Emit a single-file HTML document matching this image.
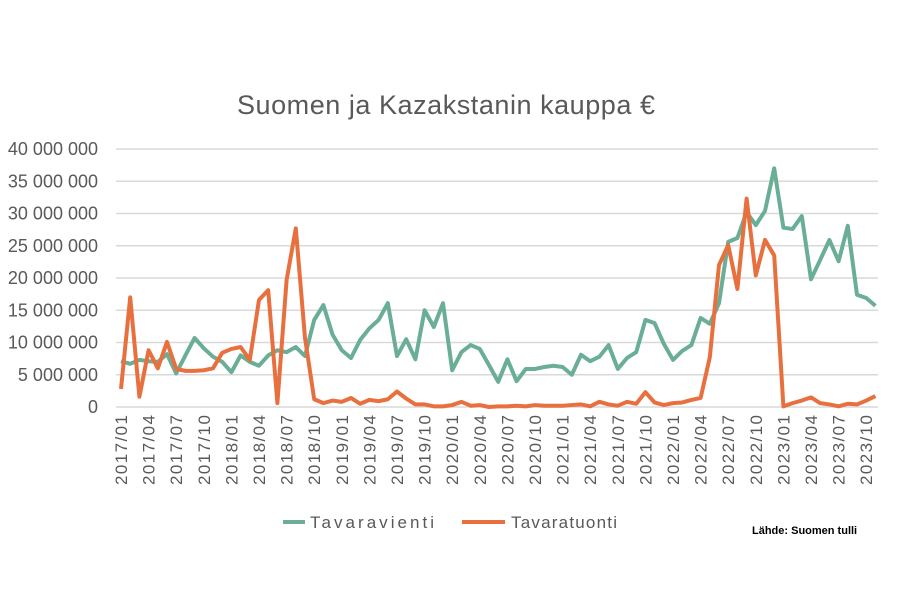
<!DOCTYPE html>
<html><head><meta charset="utf-8"><style>
body{margin:0;background:#fff;}
svg text{font-family:"Liberation Sans",sans-serif;fill:#595959;}
</style></head><body>
<svg id="chart" width="900" height="600">
<text x="446" y="114" text-anchor="middle" font-size="27" textLength="418">Suomen ja Kazakstanin kauppa €</text>
<g id="grid"></g><g id="yt"></g><g id="xt"></g><g id="series"></g>
<g>
<line x1="283" y1="522" x2="305" y2="522" stroke="#6aae96" stroke-width="4"/>
<text x="310" y="528" font-size="17" textLength="124">Tavaravienti</text>
<line x1="462" y1="522" x2="505" y2="522" stroke="#e8703f" stroke-width="4"/>
<text x="511" y="528" font-size="17" textLength="106">Tavaratuonti</text>
</g>
<text x="752" y="534" font-size="11" font-weight="bold" style="fill:#000">Lähde: Suomen tulli</text>
</svg>
<script>
const vienti=[7.1,6.7,7.3,7.1,7.0,8.2,5.2,8.0,10.7,9.1,7.8,7.0,5.4,8.0,7.0,6.4,8.0,8.8,8.5,9.3,7.9,13.5,15.8,11.2,8.8,7.6,10.4,12.2,13.5,16.1,7.9,10.5,7.4,15.0,12.4,16.1,5.7,8.5,9.6,9.0,6.5,3.9,7.4,4.0,5.9,5.9,6.2,6.4,6.2,5.0,8.1,7.1,7.8,9.6,5.9,7.6,8.5,13.5,13.0,9.8,7.3,8.7,9.6,13.8,12.9,16.1,25.6,26.2,30.2,28.2,30.4,37.0,27.8,27.6,29.6,19.8,22.8,25.9,22.6,28.1,17.4,16.9,15.7];
const tuonti=[2.8,17.0,1.6,8.8,6.0,10.1,5.9,5.6,5.6,5.7,6.0,8.4,9.0,9.3,7.3,16.6,18.1,0.6,19.7,27.7,10.7,1.2,0.6,1.0,0.8,1.4,0.5,1.1,0.9,1.2,2.4,1.3,0.4,0.4,0.1,0.1,0.3,0.8,0.2,0.3,0.0,0.1,0.1,0.2,0.1,0.3,0.2,0.2,0.2,0.3,0.4,0.1,0.8,0.4,0.2,0.8,0.5,2.3,0.7,0.3,0.6,0.7,1.1,1.4,7.7,22.0,25.1,18.3,32.3,20.4,25.9,23.5,0.1,0.6,1.0,1.5,0.6,0.4,0.1,0.5,0.4,1.0,1.7];
const yTicks=[0,5,10,15,20,25,30,35,40];
const startYear=2017;
const NS="http://www.w3.org/2000/svg";
const X=i=>121+i*9.2, Y=v=>407-v*6.45;
function mk(tag,attrs,parent){const e=document.createElementNS(NS,tag);for(const k in attrs)e.setAttribute(k,attrs[k]);document.getElementById(parent).appendChild(e);return e;}
yTicks.forEach(t=>{
 const l=mk('line',{x1:116,x2:878,y1:Y(t),y2:Y(t),stroke:'#d9d9d9','stroke-width':1.5},'grid');
 
 
 const tx=mk('text',{x:98,y:Y(t)+6,'text-anchor':'end','font-size':18},'yt');
 tx.textContent=t===0?'0':String(t)+' 000 000';
 
 
});
for(let i=0;i<vienti.length;i+=3){
 const yr=startYear+Math.floor(i/12), m=i%12+1;
 const tx=mk('text',{transform:`translate(${X(i)+6},415) rotate(-90)`,'text-anchor':'end','font-size':17,textLength:70},'xt');
 tx.textContent=yr+'/'+String(m).padStart(2,'0');
 
 
}
function line(arr,col,name){
 const p=mk('polyline',{points:arr.map((v,i)=>X(i)+','+Y(v)).join(' '),fill:'none',stroke:col,'stroke-width':4,'stroke-linejoin':'round'},'series');
 
 
}
line(vienti,'#6aae96','vienti-line');
line(tuonti,'#e8703f','tuonti-line');
</script>
</body></html>
